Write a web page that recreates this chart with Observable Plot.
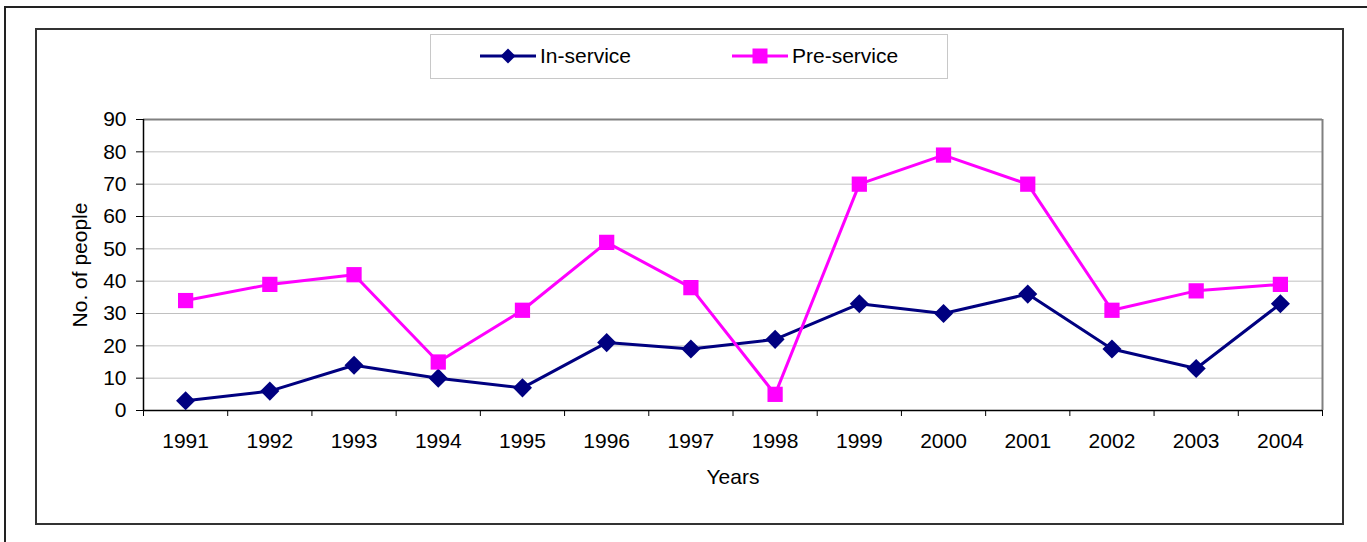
<!DOCTYPE html>
<html><head><meta charset="utf-8">
<script src="https://cdn.jsdelivr.net/npm/d3@7"></script>
<script src="https://cdn.jsdelivr.net/npm/@observablehq/plot@0.6"></script>
<style>
body{margin:0;background:#fff;font-family:"Liberation Sans",Arial,sans-serif;}
#wrap{position:relative;width:1367px;height:542px;overflow:hidden;background:#fff;}
#chart{position:absolute;left:0;top:0;}
.frame{position:absolute;box-sizing:border-box;pointer-events:none;}
.leg{position:absolute;font-size:21px;line-height:21px;color:#000;white-space:nowrap;}
</style></head><body>
<div id="wrap">
<div id="chart"></div>
<div class="frame" style="left:4px;top:6px;width:1400px;height:600px;border:2px solid #222;"></div>
<div class="frame" style="left:35px;top:28px;width:1309px;height:497px;border:2px solid #333;"></div>
<div class="frame" style="left:430px;top:34px;width:518px;height:45px;border:1px solid #c8c8c8;"></div>
</div>
<script>
const years = [1991, 1992, 1993, 1994, 1995, 1996, 1997, 1998, 1999, 2000, 2001, 2002, 2003, 2004];
const inService = [3, 6, 14, 10, 7, 21, 19, 22, 33, 30, 36, 19, 13, 33];
const preService = [34, 39, 42, 15, 31, 52, 38, 5, 70, 79, 70, 31, 37, 39];
const yTicks = [0, 10, 20, 30, 40, 50, 60, 70, 80, 90];
const seriesNames = ["In-service", "Pre-service"];
const seriesColors = ["#000080", "#FF00FF"];
const xTitle = "Years";
const yTitle = "No. of people";

const inData = years.map((year, i) => ({year, value: inService[i]}));
const preData = years.map((year, i) => ({year, value: preService[i]}));
const bounds = years.map(y => y - 0.5).concat([years[years.length - 1] + 0.5]);

const chart = Plot.plot({
  width: 1367, height: 542,
  marginLeft: 143, marginRight: 45, marginTop: 119, marginBottom: 132,
  style: {background: "transparent", fontFamily: "Liberation Sans, Arial, sans-serif", fontSize: "21px", color: "#000"},
  x: {type: "linear", domain: [bounds[0], bounds[bounds.length - 1]]},
  y: {domain: [yTicks[0], yTicks[yTicks.length - 1]]},
  marks: [
    Plot.ruleY(yTicks.slice(1, -1), {stroke: "#c0c0c0", strokeWidth: 1}),
    Plot.ruleY([yTicks[yTicks.length - 1]], {stroke: "#808080", strokeWidth: 2}),
    Plot.ruleX([bounds[bounds.length - 1]], {stroke: "#808080", strokeWidth: 2}),
    Plot.axisY({ticks: yTicks, tickSize: 7, tickPadding: 10, label: null, tickFormat: d => String(d), fontSize: 21}),
    Plot.axisX({ticks: bounds, tickSize: 6, tickFormat: () => "", label: null}),
    Plot.axisX({ticks: years, tickSize: 0, tickPadding: 23, tickFormat: d => String(d), label: null, fontSize: 21}),
    Plot.ruleX([bounds[0]], {stroke: "#000", strokeWidth: 1.5}),
    Plot.ruleY([0], {stroke: "#000", strokeWidth: 1.5}),
    Plot.line(inData, {x: "year", y: "value", stroke: seriesColors[0], strokeWidth: 3}),
    Plot.dot(inData, {x: "year", y: "value", symbol: "diamond2", r: 8.6, fill: seriesColors[0], stroke: "none"}),
    Plot.line(preData, {x: "year", y: "value", stroke: seriesColors[1], strokeWidth: 3}),
    Plot.dot(preData, {x: "year", y: "value", symbol: "square", r: 8.6, fill: seriesColors[1], stroke: "none"}),
    Plot.text([xTitle], {text: d => d, frameAnchor: "bottom", textAnchor: "middle", lineAnchor: "middle", dy: 67, fontSize: 21}),
    Plot.text([yTitle], {text: d => d, frameAnchor: "left", textAnchor: "middle", lineAnchor: "middle", dx: -63, rotate: -90, fontSize: 21})
  ]
});
document.getElementById("chart").appendChild(chart);

// legend
const wrap = document.getElementById("wrap");
const legX = [480, 732];
seriesNames.forEach((name, i) => {
  const ns = "http://www.w3.org/2000/svg";
  const svg = document.createElementNS(ns, "svg");
  svg.setAttribute("width", 56); svg.setAttribute("height", 20);
  svg.style.position = "absolute";
  svg.style.left = legX[i] + "px"; svg.style.top = "46px";
  const line = document.createElementNS(ns, "line");
  line.setAttribute("x1", 0); line.setAttribute("x2", 56);
  line.setAttribute("y1", 10); line.setAttribute("y2", 10);
  line.setAttribute("stroke", seriesColors[i]); line.setAttribute("stroke-width", 3);
  svg.appendChild(line);
  const m = document.createElementNS(ns, "path");
  m.setAttribute("d", i === 0 ? "M28,2.5L35.5,10L28,17.5L20.5,10Z" : "M20.5,2.5H35.5V17.5H20.5Z");
  m.setAttribute("fill", seriesColors[i]);
  svg.appendChild(m);
  wrap.appendChild(svg);
  const t = document.createElement("div");
  t.className = "leg";
  t.textContent = name;
  t.style.left = (legX[i] + 60) + "px";
  t.style.top = "45px";
  wrap.appendChild(t);
});
</script>
</body></html>
